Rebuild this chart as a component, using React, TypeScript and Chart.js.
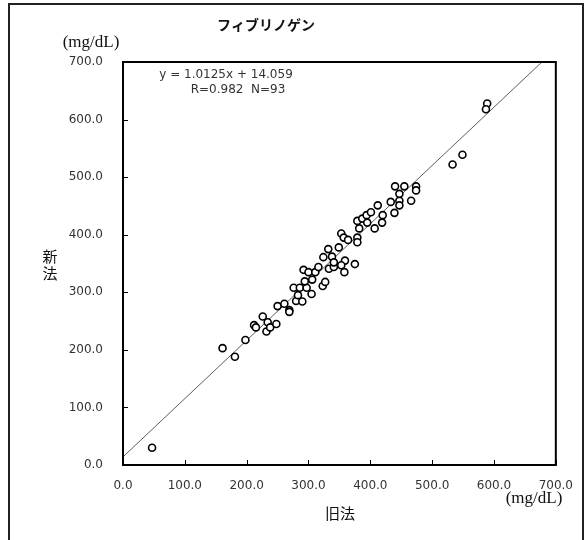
import React, { useEffect, useRef } from "react";
import { Chart, registerables } from "chart.js";

Chart.register(...registerables);

const TITLE = "フィブリノゲン";
const X_TITLE = "旧法";
const Y_TITLE = "新法";
const UNIT = "(mg/dL)";
const EQ_LINE1 = "y = 1.0125x + 14.059";
const EQ_LINE2 = "R=0.982  N=93";

const OLD_METHOD = [
  47, 161, 181, 198, 212, 215, 226, 234, 232, 238, 248, 250, 261, 269, 269, 280, 290,
  276, 286, 297, 305, 283, 292, 300, 311, 306, 294, 323, 327, 316, 333, 341, 358, 324,
  338, 359, 341, 353, 375, 349, 332, 353, 357, 364, 379, 379, 382, 379, 387, 394, 395,
  401, 407, 419, 412, 420, 439, 433, 447, 447, 466, 447, 440, 455, 474, 474, 533, 549,
  589, 587,
];
const NEW_METHOD = [
  30, 203, 188, 217, 243, 239, 258, 248, 232, 239, 245, 276, 280, 269, 266, 285, 284,
  308, 308, 308, 297, 295, 339, 335, 335, 322, 319, 311, 318, 344, 341, 344, 335, 361,
  362, 355, 352, 347, 349, 378, 375, 402, 395, 391, 395, 387, 411, 424, 428, 434, 421,
  439, 411, 421, 451, 434, 438, 457, 459, 451, 459, 471, 484, 484, 484, 477, 522, 539,
  628, 618,
];
const REG_X = [0, 677.5];
const REG_Y = [14.06, 700];
const TICK_VALUES = [0, 100, 200, 300, 400, 500, 600, 700];

const W = 587;
const H = 540;

const decorPlugin = {
  id: "decor",
  beforeDraw(chart: any) {
    const ctx = chart.ctx;
    ctx.save();
    ctx.fillStyle = "#ffffff";
    ctx.fillRect(0, 0, W, H);
    ctx.strokeStyle = "#222";
    ctx.lineWidth = 2;
    ctx.strokeRect(9, 4, 574, 545);
    ctx.restore();
  },
  afterDraw(chart: any) {
    const ctx = chart.ctx;
    const a = chart.chartArea;
    const xs = chart.scales.x;
    const ys = chart.scales.y;
    ctx.save();
    ctx.strokeStyle = "#000";
    ctx.lineWidth = 2;
    ctx.strokeRect(a.left, a.top, a.right - a.left, a.bottom - a.top);
    ctx.lineWidth = 1;
    TICK_VALUES.forEach((v) => {
      const px = Math.round(xs.getPixelForValue(v)) + 0.5;
      ctx.beginPath();
      ctx.moveTo(px, a.bottom);
      ctx.lineTo(px, a.bottom - 5);
      ctx.stroke();
      const py = Math.round(ys.getPixelForValue(v)) + 0.5;
      ctx.beginPath();
      ctx.moveTo(a.left, py);
      ctx.lineTo(a.left + 5, py);
      ctx.stroke();
    });
    ctx.fillStyle = "#111";
    ctx.textAlign = "center";
    ctx.textBaseline = "middle";
    ctx.font = "bold 14px 'Noto Sans CJK JP'";
    ctx.fillText(TITLE, 266, 25);
    ctx.font = "15px 'Noto Sans CJK JP'";
    ctx.fillText(Y_TITLE.charAt(0), 50, 256);
    ctx.fillText(Y_TITLE.charAt(1), 50, 273);
    ctx.fillText(X_TITLE, 340, 513);
    ctx.font = "17px 'Liberation Serif'";
    ctx.fillText(UNIT, 91, 43);
    ctx.fillText(UNIT, 534, 499);
    ctx.fillStyle = "#333";
    ctx.font = "12px 'DejaVu Sans'";
    ctx.fillText(EQ_LINE1, 226, 75);
    ctx.fillText(EQ_LINE2, 238, 90);
    ctx.restore();
  },
};

export default function App() {
  const ref = useRef<HTMLCanvasElement | null>(null);
  useEffect(() => {
    if (!ref.current) return;
    const points = OLD_METHOD.map((x, i) => ({ x, y: NEW_METHOD[i] }));
    const reg = REG_X.map((x, i) => ({ x, y: REG_Y[i] }));
    const tickFont = { family: "'DejaVu Sans'", size: 12 };
    const chart = new Chart(ref.current, {
      type: "scatter",
      data: {
        datasets: [
          {
            data: points,
            pointRadius: 3.5,
            pointBorderWidth: 1.6,
            pointBorderColor: "#000",
            pointBackgroundColor: "#fff",
            showLine: false,
          },
          {
            data: reg,
            showLine: true,
            borderColor: "#333",
            borderWidth: 0.8,
            pointRadius: 0,
            fill: false,
          },
        ],
      },
      options: {
        responsive: false,
        animation: false,
        devicePixelRatio: 1,
        layout: { padding: { left: 0, top: 62, right: 30, bottom: 0 } },
        plugins: {
          legend: { display: false },
          tooltip: { enabled: false },
          title: { display: false },
        },
        scales: {
          x: {
            type: "linear",
            min: 0,
            max: 700,
            grid: { display: false, drawTicks: false },
            border: { display: false },
            ticks: {
              stepSize: 100,
              padding: 14,
              color: "#333",
              font: tickFont,
              maxRotation: 0,
              callback: (v: any) => Number(v).toFixed(1),
            },
            afterFit: (s: any) => {
              s.height = 75;
            },
          },
          y: {
            type: "linear",
            min: 0,
            max: 700,
            grid: { display: false, drawTicks: false },
            border: { display: false },
            ticks: {
              stepSize: 100,
              padding: 20,
              color: "#333",
              font: tickFont,
              callback: (v: any) => Number(v).toFixed(1),
            },
            afterFit: (s: any) => {
              s.width = 123;
            },
          },
        },
      },
      plugins: [decorPlugin],
    });
    return () => chart.destroy();
  }, []);
  return (
    <div style={{ position: "absolute", left: 0, top: 0, width: W, height: H }}>
      <canvas ref={ref} width={W} height={H} style={{ width: W, height: H, display: "block" }} />
    </div>
  );
}
